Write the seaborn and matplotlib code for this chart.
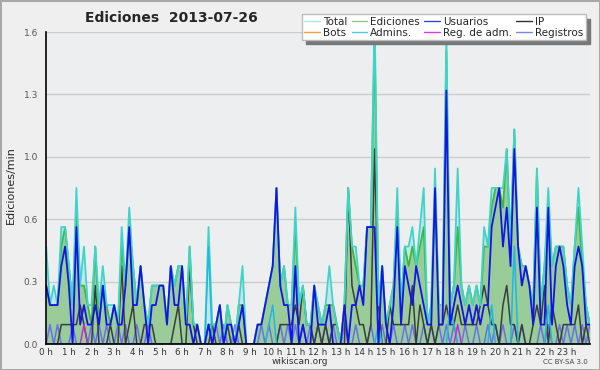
import numpy as np
import pandas as pd
import matplotlib
matplotlib.use("Agg")
import matplotlib.pyplot as plt
from matplotlib.lines import Line2D
from matplotlib.ticker import MultipleLocator, FormatStrFormatter
import seaborn as sns

# edits counted per 10 minutes, 0:00 .. 24:00 (145 slots)
hours = np.arange(145) / 6

total = [5,2,3,2,6,6,4,2,8,3, 5,2,2,5,2,4,2,2,2,1, 6,3,7,4,2,4,2,1,3,3,
         3,3,1,4,3,4,4,1,5,1, 1,0,0,6,1,1,2,0,2,1, 0,2,4,0,0,0,1,1,2,3,
         4,8,3,4,2,2,7,2,3,1, 1,3,2,1,2,4,2,1,0,2, 8,5,5,3,3,6,6,17,2,4,
         1,2,3,8,2,5,5,6,4,6, 8,1,2,9,2,2,16,2,3,9, 3,2,3,2,3,2,6,5,8,8,
         8,8,10,5,11,5,4,4,3,2, 9,2,4,8,4,5,5,5,3,2, 5,8,5,2,1]
ediciones = [3,2,2,2,5,6,4,2,7,3, 3,2,1,5,1,3,2,1,2,1, 5,3,6,4,2,4,2,1,3,3,
             3,3,1,4,3,4,4,1,5,1, 1,0,0,1,1,1,2,0,2,1, 0,2,2,0,0,0,1,1,2,3,
             4,8,3,4,2,2,6,2,3,1, 1,3,2,1,2,2,2,1,0,2, 8,5,4,3,3,6,6,16,2,4,
             1,2,3,7,2,5,4,5,4,5, 6,1,2,8,2,2,15,2,3,6, 3,2,3,2,3,2,5,5,7,8,
             8,7,10,5,11,5,4,4,3,2, 9,2,4,7,4,5,5,5,3,2, 5,7,4,2,1]
usuarios = [3,2,2,2,4,5,3,0,6,1, 2,1,1,2,1,3,1,1,2,1, 1,3,6,2,2,4,2,0,2,2,
            3,3,1,4,2,2,4,1,1,0, 1,0,0,1,0,1,2,0,1,1, 0,1,2,0,0,0,1,1,2,3,
            4,8,3,2,2,0,4,0,1,0, 0,3,1,1,1,2,0,0,0,2, 0,2,2,3,2,6,6,6,0,4,
            1,0,2,6,1,4,3,2,4,3, 2,1,1,8,1,1,13,1,2,3, 2,1,2,1,2,1,2,2,6,7,
            8,5,7,4,10,5,3,4,3,1, 7,1,1,7,1,4,5,4,2,1, 4,5,4,1,1]
ip = [0,0,0,0,1,1,1,1,1,2, 1,0,0,3,0,0,0,1,0,0, 4,0,1,2,0,0,1,1,1,0,
      0,0,0,0,1,2,0,0,4,1, 0,0,0,0,1,0,0,0,1,0, 0,1,0,0,0,0,0,0,0,0,
      0,0,1,1,1,1,2,1,3,1, 1,0,1,0,1,0,1,1,0,0, 8,3,2,1,1,0,1,10,2,0,
      0,2,1,1,1,1,1,3,0,2, 1,0,1,0,1,1,2,1,1,2, 1,1,1,1,1,2,3,2,1,1,
      0,2,3,1,1,0,1,0,0,1, 2,1,3,0,2,1,0,1,1,1, 1,2,0,1,0]
registros = [0,1,0,1,0,0,0,1,0,0, 0,0,1,0,1,0,1,0,0,1, 0,1,0,0,1,0,0,1,0,0,
             0,0,0,0,0,0,0,0,0,0, 0,0,0,1,0,1,0,1,0,0, 1,0,0,0,0,0,0,1,0,1,
             0,0,1,0,1,0,1,0,1,0, 1,0,1,0,1,0,1,0,0,1, 0,0,1,0,0,0,1,0,0,1,
             0,0,1,0,0,1,0,1,0,0, 1,0,1,0,1,0,1,0,1,0, 0,1,0,0,1,0,0,1,0,1,
             0,1,0,0,1,0,1,0,0,0, 0,1,0,1,0,0,1,0,1,0, 1,0,1,0,1]
admins = [0]*145
for i, v in [(43, 5), (59, 1), (60, 2), (88, 1), (107, 2), (108, 1),
             (118, 2), (124, 5), (133, 2)]:
    admins[i] = v
reg_adm = [0]*145
reg_adm[10] = 1
reg_adm[109] = 1
bots = [0]*145

df = pd.DataFrame({"h": hours, "Total": total, "Ediciones": ediciones,
                   "Usuarios": usuarios, "IP": ip, "Bots": bots,
                   "Admins.": admins, "Reg. de adm.": reg_adm,
                   "Registros": registros})
cols = df.columns[1:]
df[cols] = df[cols] / 10  # per minute

sns.set_style("white")
plt.rcParams["font.family"] = ["DejaVu Sans"]

fig, ax = plt.subplots(figsize=(6, 3.7), dpi=100)
fig.patch.set_facecolor("#efefef")
fig.patch.set_edgecolor("#a8a8a8")
fig.patch.set_linewidth(2)
fig.subplots_adjust(left=0.077, right=0.983, bottom=0.07, top=0.9135)
ax.set_facecolor("#eceef0")

# areas
ax.fill_between(df["h"], df["Total"], color="#c6e4ee", lw=0)
ax.fill_between(df["h"], df["Ediciones"], color="#99cc99", lw=0)

sns.lineplot(data=df, x="h", y="Registros", color="#5a5aff", lw=1.1, alpha=0.8, ax=ax)
sns.lineplot(data=df, x="h", y="IP", color="#3c3c3c", lw=1.1, ax=ax)
sns.lineplot(data=df, x="h", y="Ediciones", color="#3cb83c", lw=1.3, ax=ax)
sns.lineplot(data=df, x="h", y="Total", color="#40d4c8", lw=1.3, ax=ax)
sns.lineplot(data=df, x="h", y="Admins.", color="#20b8e0", lw=1.1, ax=ax)
sns.lineplot(data=df, x="h", y="Usuarios", color="#1414e6", lw=1.3, ax=ax)
sns.lineplot(data=df, x="h", y="Reg. de adm.", color="#c030d0", lw=1.1, ax=ax)

ax.set_xlim(0, 24)
ax.set_ylim(0, 1.6)
ax.set_xticks(range(24))
ax.set_xticklabels([f"{h} h" for h in range(24)])
ax.xaxis.set_minor_locator(MultipleLocator(1 / 6))
ax.set_yticks([0, 0.32, 0.64, 0.96, 1.28, 1.6])
ax.yaxis.set_major_formatter(FormatStrFormatter("%.1f"))
ax.yaxis.set_minor_locator(MultipleLocator(0.08))
ax.tick_params(axis="x", which="both", direction="out", length=3, width=1,
               labelsize=6.3, pad=0, colors="black", labelcolor="#333333")
ax.tick_params(axis="y", which="major", direction="out", length=5, width=1,
               labelsize=6.5, pad=1, labelcolor="#555555")
ax.tick_params(axis="y", which="minor", direction="out", length=3, width=1)
ax.yaxis.grid(True, color="#cccccc", lw=1)
ax.set_axisbelow(True)
for s in ["top", "right"]:
    ax.spines[s].set_visible(False)
for s in ["left", "bottom"]:
    ax.spines[s].set_color("black")
    ax.spines[s].set_linewidth(1.2)
ax.set_xlabel("")
ax.set_ylabel("")

fig.text(0.018, 0.5, "Ediciones/min", rotation=90, ha="center", va="center", fontsize=8)
fig.text(0.142, 0.951, "Ediciones  2013-07-26", fontsize=10, weight="bold", va="center")
fig.text(0.5, 0.022, "wikiscan.org", ha="center", va="center", fontsize=6.5, color="#333333")
fig.text(0.98, 0.022, "CC BY-SA 3.0", ha="right", va="center", fontsize=5, color="#444444")

# legend rows: Total Ediciones Usuarios IP / Bots Admins. Reg. de adm. Registros
leg_names = ["Total", "Bots", "Ediciones", "Admins.", "Usuarios", "Reg. de adm.", "IP", "Registros"]
leg_colors = ["#a8e8e8", "#f0a040", "#80d080", "#40d0e0", "#4040e0", "#d040e0", "#303030", "#8080f0"]
handles = [Line2D([], [], color=c, lw=1) for c in leg_colors]
leg = fig.legend(handles, leg_names, ncol=4, loc="upper right",
                 bbox_to_anchor=(0.985, 0.975), fontsize=7.5, frameon=True,
                 fancybox=False, framealpha=1, edgecolor="#bbbbbb",
                 handlelength=1.5, handletextpad=0.3, columnspacing=0.4,
                 labelspacing=0.05, borderpad=0.25,
                 shadow={"ox": 3, "oy": -3, "color": "#777777", "alpha": 1})

fig.savefig("out.png", dpi=100, facecolor=fig.get_facecolor(), edgecolor=fig.get_edgecolor())
